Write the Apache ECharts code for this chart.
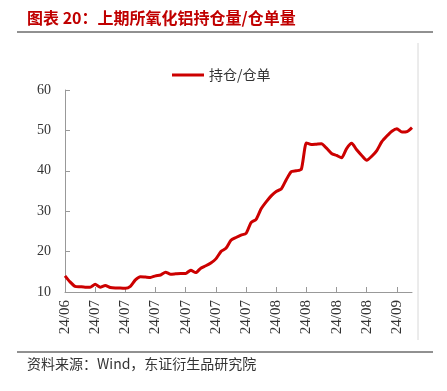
<!DOCTYPE html>
<html>
<head>
<meta charset="utf-8">
<script src="https://cdn.jsdelivr.net/npm/echarts@6/dist/echarts.min.js"></script>
<style>
  html, body { margin: 0; padding: 0; background: #fff; }
  #chart { width: 447px; height: 391px; }
</style>
</head>
<body>
<div id="chart"></div>
<script>
// 持仓/仓单 比值，按交易日读图估计
const ratio = [
  14.0, 12.5, 11.4, 11.3, 11.2, 11.2, 11.9, 11.2, 11.6, 11.1,
  11.0, 11.0, 10.9, 11.4, 13.0, 13.8, 13.7, 13.6, 14.0, 14.2,
  14.9, 14.4, 14.5, 14.6, 14.6, 15.4, 14.8, 15.9, 16.5, 17.2,
  18.2, 20.0, 20.8, 22.8, 23.5, 24.1, 24.5, 27.2, 28.0, 30.6,
  32.3, 33.8, 34.9, 35.5, 37.8, 39.8, 40.0, 40.4, 46.9, 46.5,
  46.6, 46.7, 45.6, 44.3, 43.8, 43.2, 45.5, 46.8, 45.2, 43.8,
  42.6, 43.6, 45.0, 47.2, 48.6, 49.8, 50.4, 49.6, 49.7, 50.7
];
// 每 6 个交易日一个刻度标签
const tickLabels = ['24/06', '24/07', '24/07', '24/07', '24/07', '24/07', '24/07',
  '24/08', '24/08', '24/08', '24/08', '24/09', '24/09'];
const labelStep = 6;
const categories = ratio.map((v, i) => i);

const myChart = echarts.init(document.getElementById('chart'));
const option = {
  animation: false,
  title: {
    text: '图表 20：上期所氧化铝持仓量/仓单量',
    left: 22,
    top: 5,
    textStyle: {
      color: '#C00000',
      fontSize: 16,
      fontWeight: 'bold',
      fontFamily: 'Noto Sans CJK SC',
    },
  },
  legend: {
    top: 63,
    left: 167,
    itemWidth: 32,
    itemHeight: 3,
    icon: 'rect',
    textStyle: {
      color: '#333',
      fontSize: 14,
      fontFamily: 'Noto Sans CJK SC',
    },
    data: ['持仓/仓单'],
  },
  grid: {
    left: 65,
    right: 35,
    top: 90,
    bottom: 99,
  },
  xAxis: {
    type: 'category',
    data: categories,
    boundaryGap: false,
    axisLine: { lineStyle: { color: '#999' } },
    axisTick: {
      inside: true,
      length: 5,
      interval: (i) => i % labelStep === 0,
      lineStyle: { color: '#999' },
    },
    axisLabel: {
      rotate: 90,
      interval: (i) => i % labelStep === 0,
      color: '#333',
      fontSize: 15,
      fontFamily: 'Liberation Serif',
      margin: 8,
      formatter: (v) => tickLabels[Math.floor(v / labelStep)],
    },
    splitLine: { show: false },
  },
  yAxis: {
    type: 'value',
    min: 10,
    max: 60,
    interval: 10,
    axisLine: { show: true, lineStyle: { color: '#999' } },
    axisTick: { show: true, inside: true, length: 5, lineStyle: { color: '#999' } },
    axisLabel: {
      color: '#333',
      fontSize: 14,
      fontFamily: 'Liberation Serif',
      margin: 14,
    },
    splitLine: { show: false },
  },
  series: [
    {
      name: '持仓/仓单',
      type: 'line',
      data: ratio,
      symbol: 'none',
      smooth: 0.2,
      lineStyle: { color: '#CC0000', width: 3 },
      itemStyle: { color: '#CC0000' },
    },
  ],
  graphic: [
    {
      type: 'line',
      shape: { x1: 17, y1: 32, x2: 433, y2: 32 },
      style: { stroke: '#222', lineWidth: 1 },
    },
    {
      type: 'line',
      shape: { x1: 418, y1: 43, x2: 418, y2: 340 },
      style: { stroke: '#d8d8d8', lineWidth: 1 },
    },
    {
      type: 'line',
      shape: { x1: 17, y1: 352, x2: 433, y2: 352 },
      style: { stroke: '#222', lineWidth: 1 },
    },
    {
      type: 'text',
      left: 27,
      top: 357,
      style: {
        text: '资料来源：Wind，东证衍生品研究院',
        fill: '#333',
        fontSize: 14,
        fontFamily: 'Noto Sans CJK SC',
      },
    },
  ],
};
myChart.setOption(option);
</script>
</body>
</html>
